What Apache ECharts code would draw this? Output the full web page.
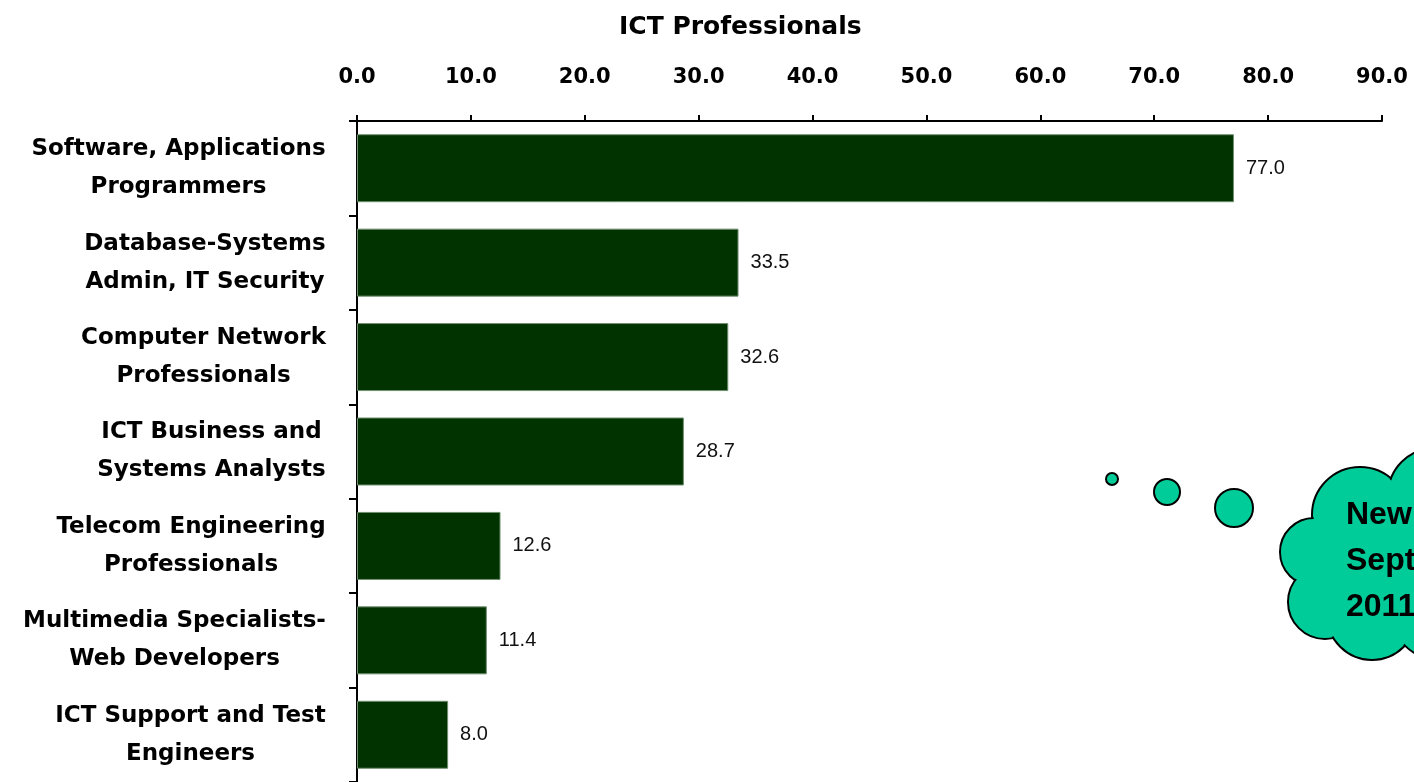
<!DOCTYPE html>
<html>
<head>
<meta charset="utf-8">
<script src="https://cdn.jsdelivr.net/npm/echarts@6/dist/echarts.min.js"></script>
<style>
html,body{margin:0;padding:0;background:#fff;}
#main{width:1414px;height:782px;}
</style>
</head>
<body>
<div id="main"></div>
<script>
const categories = [
  'Software, Applications\nProgrammers',
  'Database-Systems\nAdmin, IT Security',
  'Computer Network\nProfessionals',
  'ICT Business and\nSystems Analysts',
  'Telecom Engineering\nProfessionals',
  'Multimedia Specialists-\nWeb Developers',
  'ICT Support and Test\nEngineers'
];
const values = [77.0, 33.5, 32.6, 28.7, 12.6, 11.4, 8.0];
const axisMin = 0, axisMax = 90, axisStep = 10;
const titleText = 'ICT Professionals';
const calloutLines = ['New', 'Sept', '2011'];

const catFont = 'bold 23px "DejaVu Sans"';
const cvs = document.createElement('canvas').getContext('2d');
cvs.font = catFont;
const rich = {};
categories.forEach((c, i) => {
  const w = Math.max(...c.split('\n').map(s => cvs.measureText(s).width));
  rich['w' + i] = {width: Math.ceil(w) + 2, align: 'center', fontFamily: 'DejaVu Sans', fontWeight: 'bold', fontSize: 23, lineHeight: 38, color: '#000'};
});

const chart = echarts.init(document.getElementById('main'), null, {renderer: 'canvas'});

const cloudFill = '#00CC99';
const lobes = [
  [1360, 515, 48], [1435, 495, 47], [1314, 552, 34], [1325, 602, 37],
  [1372, 615, 45], [1440, 610, 50]
];
const graphics = [];
lobes.forEach(l => graphics.push({type: 'circle', z: 10, shape: {cx: l[0], cy: l[1], r: l[2]}, style: {fill: cloudFill, stroke: '#000', lineWidth: 2}}));
lobes.forEach(l => graphics.push({type: 'circle', z: 11, shape: {cx: l[0], cy: l[1], r: l[2] - 1.5}, style: {fill: cloudFill, stroke: null}}));
graphics.push({type: 'circle', z: 11, shape: {cx: 1395, cy: 560, r: 62}, style: {fill: cloudFill}});
[[1112, 479, 6], [1167, 492, 13], [1234, 508, 19]].forEach(b => graphics.push({type: 'circle', z: 10, shape: {cx: b[0], cy: b[1], r: b[2]}, style: {fill: cloudFill, stroke: '#000', lineWidth: 2}}));
calloutLines.forEach((t, i) => graphics.push({type: 'text', z: 12, x: 1346, y: 515 + i * 46, style: {text: t, fill: '#000', font: 'bold 32px "Liberation Sans"', textAlign: 'left', textVerticalAlign: 'middle'}}));

chart.setOption({
  animation: false,
  backgroundColor: '#fff',
  title: {
    text: titleText, left: 614, top: 10,
    textStyle: {fontFamily: 'DejaVu Sans', fontWeight: 'bold', fontSize: 25, color: '#000'}
  },
  grid: {left: 357, right: 32, top: 121, bottom: 0, containLabel: false},
  xAxis: {
    type: 'value', position: 'top', min: axisMin, max: axisMax, interval: axisStep,
    axisLine: {show: true, lineStyle: {color: '#000', width: 2}},
    axisTick: {show: true, inside: false, length: 6, lineStyle: {color: '#000', width: 2}},
    splitLine: {show: false},
    axisLabel: {
      margin: 33, color: '#000', fontFamily: 'DejaVu Sans', fontWeight: 'bold', fontSize: 21,
      formatter: v => v.toFixed(1)
    }
  },
  yAxis: {
    type: 'category', inverse: true, data: categories,
    axisLine: {show: true, lineStyle: {color: '#000', width: 2}},
    axisTick: {show: true, length: 8, lineStyle: {color: '#000', width: 2}},
    axisLabel: {
      margin: 30, align: 'right',
      formatter: (v, i) => v.split('\n').map(s => '{w' + i + '|' + s + '}').join('\n'),
      rich: rich
    }
  },
  series: [{
    type: 'bar', data: values, barCategoryGap: '28%',
    itemStyle: {color: '#003300', borderColor: '#6f8f6f', borderWidth: 1},
    label: {
      show: true, position: 'right', distance: 12, color: '#111',
      fontFamily: 'Liberation Sans', fontSize: 20, formatter: p => p.value.toFixed(1)
    }
  }],
  graphic: graphics
});
</script>
</body>
</html>
